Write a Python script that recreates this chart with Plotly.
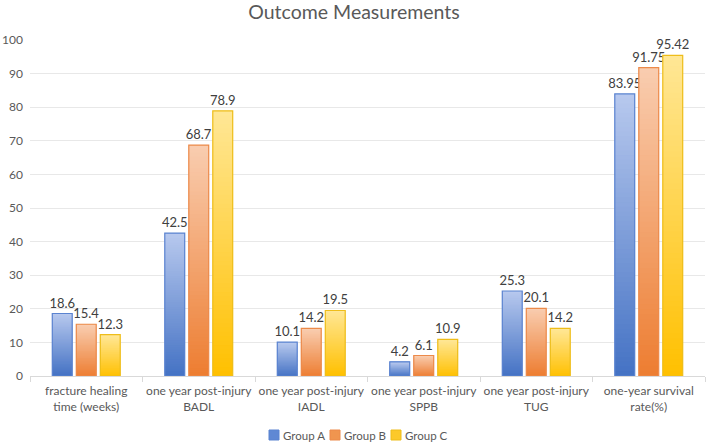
import plotly.graph_objects as go

categories = ["fracture healing<br>time (weeks)", "one year post-injury<br>BADL",
              "one year post-injury<br>IADL", "one year post-injury<br>SPPB",
              "one year post-injury<br>TUG", "one-year survival<br>rate(%)"]
group_a = [18.6, 42.5, 10.1, 4.2, 25.3, 83.95]
group_b = [15.4, 68.7, 14.2, 6.1, 20.1, 91.75]
group_c = [12.3, 78.9, 19.5, 10.9, 14.2, 95.42]
labels_a = ["18.6", "42.5", "10.1", "4.2", "25.3", "83.95"]
labels_b = ["15.4", "68.7", "14.2", "6.1", "20.1", "91.75"]
labels_c = ["12.3", "78.9", "19.5", "10.9", "14.2", "95.42"]

series = [
    ("Group A", group_a, labels_a, (184, 201, 238), (68, 114, 196), "#5a83d0", "#5f88d4"),
    ("Group B", group_b, labels_b, (249, 205, 176), (237, 125, 49), "#ec8a4a", "#f0954f"),
    ("Group C", group_c, labels_c, (255, 231, 150), (255, 192, 0), "#eebd1a", "#fcc92a"),
]
# legend layout (pixel x of each swatch's left edge)
legend_px = [269, 330, 391]

W, H = 708, 445
ML, MR, MT, MB = 30, 3, 40, 69
PW, PH = W - ML - MR, H - MT - MB

def px_x(p):
    return (p - ML) / PW

def px_y(p):
    return (H - MB - p) / PH

N = 60
fig = go.Figure()
font = "Lato, Carlito, 'Open Sans', sans-serif"

for (name, vals, labs, top, bot, line_c, leg_c), lx in zip(series, legend_px):
    for k in range(N):
        f = (k + 0.5) / N
        c = tuple(round(bot[i] + (top[i] - bot[i]) * f) for i in range(3))
        bases = [v * k / N for v in vals]
        heights = [min(v / N * 2.0, v - b) for v, b in zip(vals, bases)]
        fig.add_trace(go.Bar(
            x=categories, y=heights, base=bases, name=name,
            offsetgroup=name, showlegend=False, hoverinfo="skip",
            marker=dict(color="rgb(%d,%d,%d)" % c, line=dict(width=0))))
    fig.add_trace(go.Bar(
        x=categories, y=vals, base=[0] * len(vals), offsetgroup=name, showlegend=False,
        name=name,
        marker=dict(color="rgba(0,0,0,0)", line=dict(color=line_c, width=1.2)),
        text=labs, textposition="outside", cliponaxis=False, constraintext="none",
        textfont=dict(size=13, color="#404040", family=font)))
    # legend swatch + label
    fig.add_shape(type="rect", xref="paper", yref="paper",
                  x0=px_x(lx), x1=px_x(lx + 10), y0=px_y(440), y1=px_y(430),
                  fillcolor=leg_c, line=dict(color=line_c, width=1))
    fig.add_annotation(text=name, xref="paper", yref="paper", x=px_x(lx + 12), y=px_y(435),
                       xanchor="left", yanchor="middle", showarrow=False,
                       font=dict(size=11.5, color="#595959", family=font))

fig.update_layout(
    width=W, height=H,
    margin=dict(l=ML, r=MR, t=MT, b=MB, autoexpand=False),
    paper_bgcolor="white", plot_bgcolor="white",
    barmode="group", bargap=0.36, bargroupgap=0.17,
    title=dict(text="Outcome Measurements", x=0.5, xanchor="center", y=0.972, yanchor="middle",
               font=dict(size=19.5, color="#595959", family=font)),
    font=dict(family=font, color="#595959"),
    showlegend=False,
)
fig.update_xaxes(tickfont=dict(size=12, color="#595959"), showline=True, linecolor="#d9d9d9",
                 ticks="outside", tickson="boundaries", ticklen=5, tickcolor="#d9d9d9",
                 showgrid=False, tickangle=0, automargin=False, ticklabelstandoff=4)
fig.update_yaxes(range=[0, 100], dtick=10, showgrid=True, gridcolor="#e8e8e8", gridwidth=1,
                 tickfont=dict(size=12, color="#595959"), zeroline=False, ticks="",
                 ticklabelstandoff=6, automargin=False)

fig.write_html("out.html")
